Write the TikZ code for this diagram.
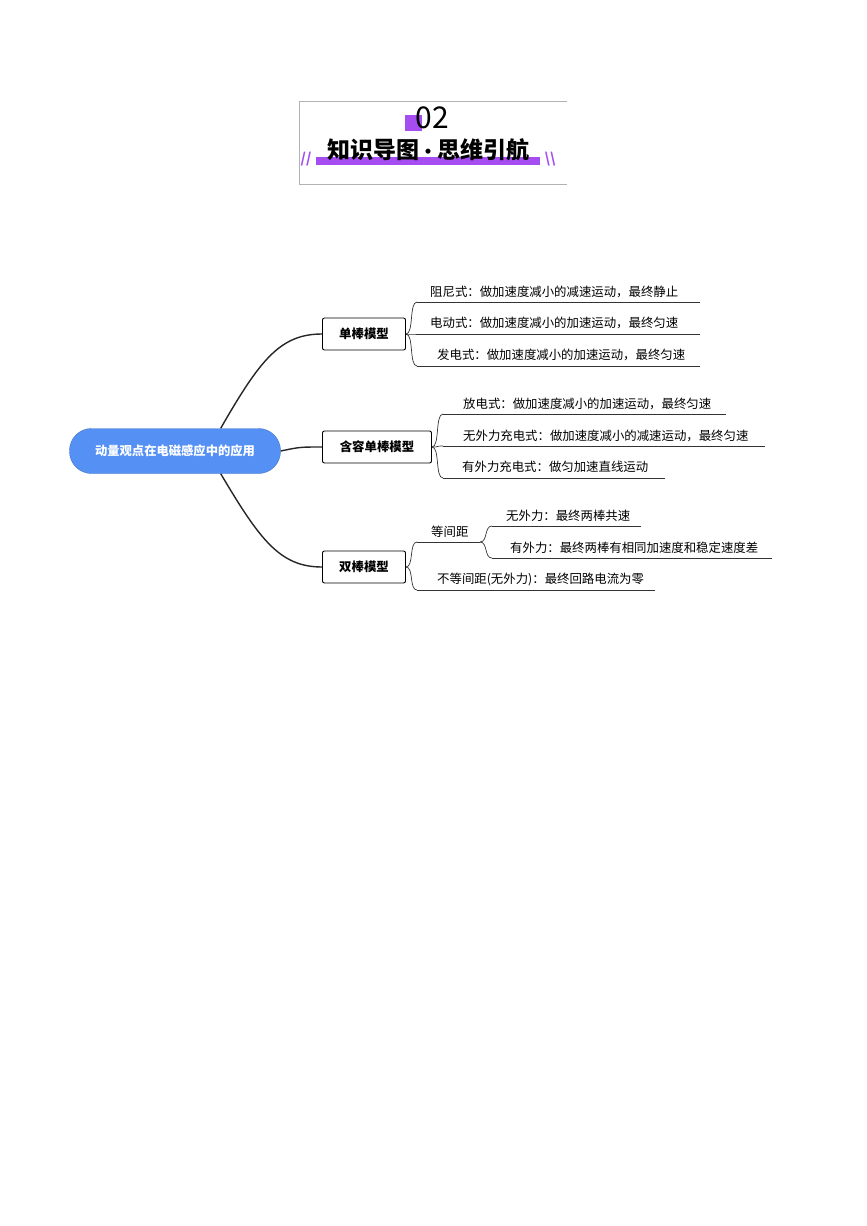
\documentclass[tikz,border=0pt]{standalone}
\usepackage{fontspec}
\setmainfont{Noto Sans CJK SC}
\usetikzlibrary{positioning}
\definecolor{rootblue}{HTML}{5591F5}
\definecolor{hdpurple}{HTML}{A54DF0}
\tikzset{
    branch/.style={
        draw,
        line width=0.9pt,
        rounded corners=2pt,
        fill=white,
        minimum width=83pt,
        minimum height=32pt,
        font=\fontsize{12.4}{14}\selectfont\bfseries
    },
    leaf/.style={
        anchor=base west,
        inner sep=0pt,
        font=\fontsize{12.4}{14}\selectfont
    },
    link/.style={line width=1.4pt, black!85},
    uline/.style={black!80, line width=0.7pt}
}

\begin{document}
\begin{tikzpicture}[x=1pt, y=-1pt]
    \useasboundingbox (0,0) rectangle (867,1226);
    % header
    \draw[gray!60] (567,101) -- (299,101) -- (299,184) -- (567,184);
    \fill[hdpurple] (405,115) rectangle (422,131);
    \node[font=\fontsize{30}{32}\selectfont] (num) at (432,118) {02};
    \fill[hdpurple] (316,157) rectangle (540,165);
    \node[font=\fontsize{23}{25}\selectfont\bfseries] (title) at (428,150) {知识导图{\fontsize{18}{20}\selectfont•}思维引航};
    \node[text=hdpurple, font=\fontsize{14}{14}\selectfont\bfseries] (sl) at (306,159) {//};
    \node[text=hdpurple, font=\fontsize{14}{14}\selectfont\bfseries] (sr) at (550,159) {\textbackslash\textbackslash};

    % root and branches
    \node[fill=rootblue, draw=rootblue!80!black, rounded corners=22pt, minimum width=211pt, minimum height=45pt,
          text=white, font=\fontsize{12.3}{14}\selectfont\bfseries] (root) at (175,451) {动量观点在电磁感应中的应用};
    \node[branch] (b1) at (364,334) {单棒模型};
    \node[branch, minimum width=109pt] (b2) at (377,447) {含容单棒模型};
    \node[branch] (b3) at (364,567) {双棒模型};

    \draw[link] (root.north east) ++(-60,0) coordinate (r1) .. controls (260,360) and (280,334) .. (b1.west);
    \draw[link] (root.east) .. controls (300,447) .. (b2.west);
    \draw[link] (root.south east) ++(-60,0) coordinate (r3) .. controls (260,540) and (280,567) .. (b3.west);

    % leaves of b1
    \node[leaf] (a1) at (430,296) {阻尼式：做加速度减小的减速运动，最终静止};
    \node[leaf] (a2) at (430,327) {电动式：做加速度减小的加速运动，最终匀速};
    \node[leaf] (a3) at (437,359) {发电式：做加速度减小的加速运动，最终匀速};
    \coordinate (a1s) at (417,302); \coordinate (a1e) at (700,302);
    \coordinate (a2s) at (417,334); \coordinate (a2e) at (700,334);
    \coordinate (a3s) at (417,366); \coordinate (a3e) at (700,366);

    % leaves of b2
    \node[leaf] (c1) at (463,408) {放电式：做加速度减小的加速运动，最终匀速};
    \node[leaf] (c2) at (463,440) {无外力充电式：做加速度减小的减速运动，最终匀速};
    \node[leaf] (c3) at (462,471) {有外力充电式：做匀加速直线运动};
    \coordinate (c1s) at (443,414); \coordinate (c1e) at (726,414);
    \coordinate (c2s) at (443,446); \coordinate (c2e) at (765,446);
    \coordinate (c3s) at (443,478); \coordinate (c3e) at (665,478);

    % leaves of b3
    \node[leaf] (d1) at (431,536) {等间距};
    \node[leaf] (d2) at (437,583) {不等间距(无外力)：最终回路电流为零};
    \node[leaf] (e1) at (506,520) {无外力：最终两棒共速};
    \node[leaf] (e2) at (510,552) {有外力：最终两棒有相同加速度和稳定速度差};
    \coordinate (d1s) at (417,542); \coordinate (d1e) at (480,542);
    \coordinate (d2s) at (417,590); \coordinate (d2e) at (655,590);
    \coordinate (e1s) at (492,526); \coordinate (e1e) at (641,526);
    \coordinate (e2s) at (492,558); \coordinate (e2e) at (772,558);

    % underlines
    \foreach \n in {a1,a2,a3,c1,c2,c3,d1,d2,e1,e2}
        \draw[uline] (\n s) -- (\n e);

    % brackets
    \foreach \n in {a1,a2,a3}
        \draw[uline] (b1.east) .. controls +(8,0) and +(-8,0) .. (\n s);
    \foreach \n in {c1,c2,c3}
        \draw[uline] (b2.east) .. controls +(8,0) and +(-8,0) .. (\n s);
    \foreach \n in {d1,d2}
        \draw[uline] (b3.east) .. controls +(8,0) and +(-8,0) .. (\n s);
    \foreach \n in {e1,e2}
        \draw[uline] (d1e) .. controls +(8,0) and +(-8,0) .. (\n s);
\end{tikzpicture}
\end{document}
